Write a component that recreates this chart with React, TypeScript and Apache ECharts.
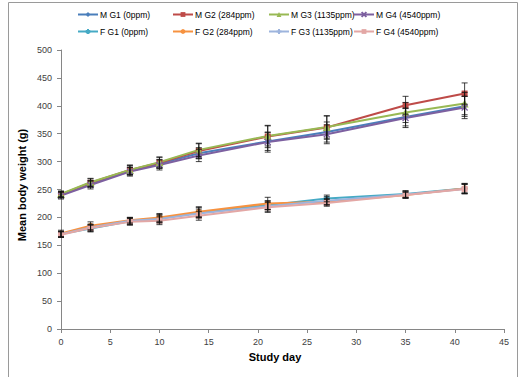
import React, { useEffect, useRef } from "react";
import * as echarts from "echarts";

const days = [0, 3, 7, 10, 14, 21, 27, 35, 41];

const seriesNames = [
  "M G1 (0ppm)", "M G2 (284ppm)", "M G3 (1135ppm)", "M G4 (4540ppm)",
  "F G1 (0ppm)", "F G2 (284ppm)", "F G3 (1135ppm)", "F G4 (4540ppm)",
];

const mG1 = [241, 260, 283, 296, 315, 336, 353, 380, 399];
const mG2 = [241, 262, 285, 298, 319, 345, 361, 401, 422];
const mG3 = [242, 263, 285, 299, 321, 346, 362, 388, 404];
const mG4 = [239, 258, 282, 294, 311, 335, 349, 378, 397];
const fG1 = [170, 180, 193, 198, 209, 222, 234, 242, 252];
const fG2 = [171, 185, 195, 200, 210, 225, 228, 240, 252];
const fG3 = [170, 182, 194, 197, 207, 220, 230, 241, 251];
const fG4 = [169, 181, 192, 194, 203, 218, 226, 240, 251];

const mG1sd = [5, 6, 7, 8, 10, 16, 18, 16, 18];
const mG2sd = [6, 7, 9, 10, 13, 20, 21, 16, 19];
const mG3sd = [5, 7, 8, 9, 12, 18, 20, 18, 20];
const mG4sd = [6, 7, 8, 9, 11, 18, 17, 17, 20];
const fG1sd = [5, 6, 6, 7, 9, 8, 6, 6, 8];
const fG2sd = [6, 7, 5, 7, 9, 11, 6, 5, 9];
const fG3sd = [5, 6, 6, 7, 8, 9, 7, 6, 8];
const fG4sd = [5, 6, 6, 7, 8, 9, 6, 6, 9];

const means = [mG1, mG2, mG3, mG4, fG1, fG2, fG3, fG4];
const sds = [mG1sd, mG2sd, mG3sd, mG4sd, fG1sd, fG2sd, fG3sd, fG4sd];

const colors = ["#4A7EBB", "#BE4B48", "#98B954", "#7D60A0", "#46AAC5", "#F69240", "#9DB4DD", "#E3A7A5"];
const symbols = [
  "diamond",
  "rect",
  "triangle",
  "path://M0,0L10,10M10,0L0,10",
  "path://M5,0L5,10M0,5L10,5M1.5,1.5L8.5,8.5M8.5,1.5L1.5,8.5",
  "circle",
  "path://M5,0L5,10M0,5L10,5",
  "path://M0,4.4L10,4.4L10,5.6L0,5.6Z",
];
const strokeOnly = [false, false, false, true, true, false, true, false];
const legendLeft = [77, 172, 268, 353];

export default function App() {
  const ref = useRef<HTMLDivElement>(null);
  useEffect(() => {
    if (!ref.current) return;
    const chart = echarts.init(ref.current, null, { renderer: "svg" });
    const lineSeries: any[] = means.map((m, i) => ({
      name: seriesNames[i],
      type: "line",
      data: days.map((d, j) => [d, m[j]]),
      symbol: symbols[i],
      symbolSize: i === 2 ? 8 : 6,
      showSymbol: true,
      lineStyle: { color: colors[i], width: 2 },
      itemStyle: strokeOnly[i]
        ? { color: colors[i], borderColor: colors[i], borderWidth: 1.3 }
        : { color: colors[i] },
      z: 2,
    }));
    const errSeries: any[] = means.map((m, i) => ({
      type: "custom",
      name: "err" + i,
      data: days.map((d, j) => [d, m[j] - sds[i][j], m[j] + sds[i][j]]),
      z: 3,
      renderItem: (params: any, api: any) => {
        const x = api.value(0);
        const lo = api.coord([x, api.value(1)]);
        const hi = api.coord([x, api.value(2)]);
        const s = { stroke: "#111", lineWidth: 0.8 };
        const w = 3;
        return {
          type: "group",
          children: [
            { type: "line", shape: { x1: lo[0], y1: lo[1], x2: hi[0], y2: hi[1] }, style: s },
            { type: "line", shape: { x1: lo[0] - w, y1: lo[1], x2: lo[0] + w, y2: lo[1] }, style: s },
            { type: "line", shape: { x1: hi[0] - w, y1: hi[1], x2: hi[0] + w, y2: hi[1] }, style: s },
          ],
        };
      },
    }));
    const legends = seriesNames.map((n, i) => ({
      left: legendLeft[i % 4],
      top: i < 4 ? 10 : 27,
      padding: 0,
      itemWidth: 20,
      itemHeight: 6,
      itemGap: 0,
      textStyle: { fontFamily: "Liberation Sans", fontSize: 8.5, color: "#000", padding: [0, 0, 0, -3] },
      data: [n],
    }));
    chart.setOption({
      animation: false,
      color: colors,
      legend: legends,
      grid: { left: 61, right: 22, top: 50, bottom: 48, containLabel: false },
      xAxis: {
        type: "value",
        min: 0,
        max: 45,
        interval: 5,
        axisLine: { lineStyle: { color: "#868686" } },
        axisTick: { show: true, length: 4, lineStyle: { color: "#868686" } },
        splitLine: { show: false },
        axisLabel: { fontFamily: "Liberation Sans", fontSize: 9, color: "#404040", margin: 8 },
      },
      yAxis: {
        type: "value",
        min: 0,
        max: 500,
        interval: 50,
        axisLine: { show: true, lineStyle: { color: "#868686" } },
        axisTick: { show: true, length: 4, lineStyle: { color: "#868686" } },
        splitLine: { show: false },
        axisLabel: { fontFamily: "Liberation Sans", fontSize: 9, color: "#404040", margin: 9 },
      },
      graphic: [
        {
          type: "rect",
          shape: { x: 8.5, y: 2.5, width: 509, height: 420 },
          style: { fill: "none", stroke: "#9a9a9a", lineWidth: 1 },
          silent: true,
        },
        {
          type: "text",
          x: 275,
          y: 357,
          style: {
            text: "Study day",
            font: "bold 11px 'Liberation Sans'",
            fill: "#000",
            align: "center",
            verticalAlign: "middle",
          },
        },
        {
          type: "text",
          x: 22,
          y: 185,
          rotation: Math.PI / 2,
          style: {
            text: "Mean body weight (g)",
            font: "bold 11px 'Liberation Sans'",
            fill: "#000",
            align: "center",
            verticalAlign: "middle",
          },
        },
      ],
      series: [...lineSeries, ...errSeries],
    });
    return () => chart.dispose();
  }, []);
  return (
    <div
      ref={ref}
      style={{ position: "absolute", left: 0, top: 0, width: 526, height: 377, background: "#fff" }}
    />
  );
}
